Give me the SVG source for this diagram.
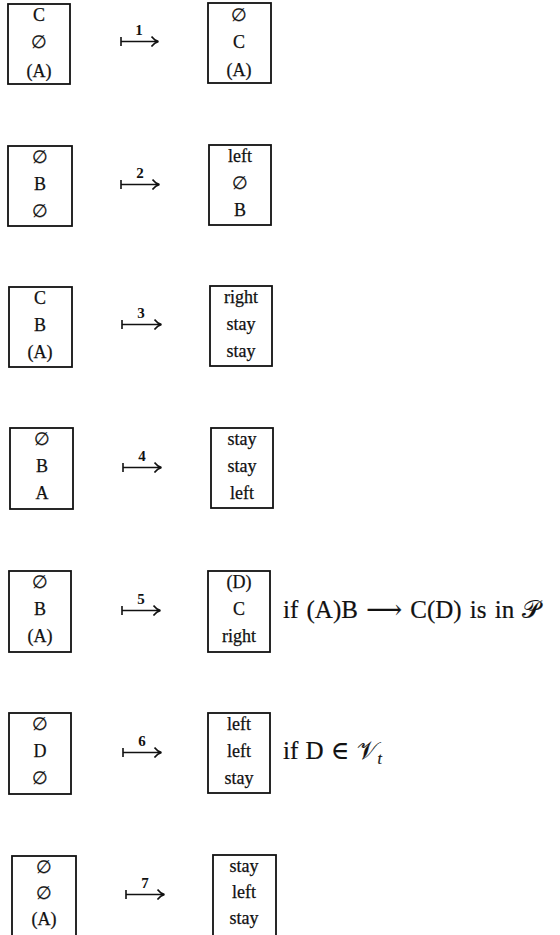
<svg xmlns="http://www.w3.org/2000/svg" width="560" height="935" viewBox="0 0 560 935">
<style>
.box{fill:#fff;stroke:#111;stroke-width:1.8}
.t{font-family:"Liberation Serif","DejaVu Serif",serif;font-size:18px;fill:#111;stroke:#111;stroke-width:0.25;text-anchor:middle}
.n{font-family:"Liberation Serif","DejaVu Serif",serif;font-size:15px;font-weight:bold;fill:#111;text-anchor:middle}
.c{font-family:"Liberation Serif","DejaVu Serif",serif;font-size:25px;fill:#111;stroke:#111;stroke-width:0.2}
.a{fill:none;stroke:#111;stroke-width:1.6}
</style>
<defs>
<marker id="ah" markerWidth="10" markerHeight="12" refX="7.5" refY="6" orient="auto" markerUnits="userSpaceOnUse">
<path d="M1,1 Q4,5 8,6 Q4,7 1,11" fill="none" stroke="#111" stroke-width="1.6"/>
</marker>
</defs>
<rect width="560" height="935" fill="#fff"/>

<g id="connectors">
<g id="arrow1"><path class="a" d="M121,37 V46 M121,41.5 H158" marker-end="url(#ah)"/><text class="n" x="139" y="35">1</text></g>
<g id="arrow2"><path class="a" d="M121,180 V189 M121,184.5 H159" marker-end="url(#ah)"/><text class="n" x="140" y="178">2</text></g>
<g id="arrow3"><path class="a" d="M122,320 V329 M122,324.5 H161" marker-end="url(#ah)"/><text class="n" x="141" y="318">3</text></g>
<g id="arrow4"><path class="a" d="M123,463 V472 M123,467.5 H161" marker-end="url(#ah)"/><text class="n" x="142" y="461">4</text></g>
<g id="arrow5"><path class="a" d="M122,606 V615 M122,610.5 H160" marker-end="url(#ah)"/><text class="n" x="141" y="604">5</text></g>
<g id="arrow6"><path class="a" d="M123,748 V757 M123,752.5 H161" marker-end="url(#ah)"/><text class="n" x="142" y="746">6</text></g>
<g id="arrow7"><path class="a" d="M126,890 V899 M126,894.5 H164" marker-end="url(#ah)"/><text class="n" x="145" y="888">7</text></g>
</g>

<g id="L1"><rect class="box" x="8" y="4" width="62" height="80"/><text class="t" x="39" y="21">C</text><text class="t" x="39" y="48">∅</text><text class="t" x="39" y="77">(A)</text></g>
<g id="R1"><rect class="box" x="208" y="3" width="63" height="80"/><text class="t" x="239" y="21">∅</text><text class="t" x="239" y="48">C</text><text class="t" x="239" y="76">(A)</text></g>

<g id="L2"><rect class="box" x="8" y="146" width="64" height="80"/><text class="t" x="40" y="163">∅</text><text class="t" x="40" y="190">B</text><text class="t" x="40" y="217">∅</text></g>
<g id="R2"><rect class="box" x="209" y="145" width="62" height="80"/><text class="t" x="240" y="162">left</text><text class="t" x="240" y="189">∅</text><text class="t" x="240" y="216">B</text></g>

<g id="L3"><rect class="box" x="9" y="287" width="63" height="80"/><text class="t" x="40" y="304">C</text><text class="t" x="40" y="331">B</text><text class="t" x="40" y="358">(A)</text></g>
<g id="R3"><rect class="box" x="210" y="286" width="62" height="80"/><text class="t" x="241" y="303">right</text><text class="t" x="241" y="330">stay</text><text class="t" x="241" y="357">stay</text></g>

<g id="L4"><rect class="box" x="10" y="428" width="63" height="81"/><text class="t" x="42" y="445">∅</text><text class="t" x="42" y="472">B</text><text class="t" x="42" y="499">A</text></g>
<g id="R4"><rect class="box" x="211" y="428" width="62" height="80"/><text class="t" x="242" y="445">stay</text><text class="t" x="242" y="472">stay</text><text class="t" x="242" y="499">left</text></g>

<g id="L5"><rect class="box" x="9" y="571" width="62" height="81"/><text class="t" x="40" y="588">∅</text><text class="t" x="40" y="615">B</text><text class="t" x="40" y="642">(A)</text></g>
<g id="R5"><rect class="box" x="208" y="571" width="62" height="81"/><text class="t" x="239" y="588">(D)</text><text class="t" x="239" y="615">C</text><text class="t" x="239" y="642">right</text></g>
<g id="C5"><text class="c" x="283" y="618" word-spacing="2">if (A)B ⟶ C(D) is in 𝒫</text></g>

<g id="L6"><rect class="box" x="9" y="713" width="62" height="81"/><text class="t" x="40" y="730">∅</text><text class="t" x="40" y="757">D</text><text class="t" x="40" y="784">∅</text></g>
<g id="R6"><rect class="box" x="208" y="713" width="62" height="80"/><text class="t" x="239" y="730">left</text><text class="t" x="239" y="757">left</text><text class="t" x="239" y="784">stay</text></g>
<g id="C6"><text class="c" x="283" y="759" word-spacing="1">if D ∈ 𝒱<tspan font-size="16" font-style="italic" dy="5">t</tspan></text></g>

<g id="L7"><rect class="box" x="12" y="856" width="64" height="81"/><text class="t" x="44" y="873">∅</text><text class="t" x="44" y="899">∅</text><text class="t" x="44" y="925">(A)</text></g>
<g id="R7"><rect class="box" x="213" y="855" width="63" height="81"/><text class="t" x="244" y="872">stay</text><text class="t" x="244" y="898">left</text><text class="t" x="244" y="924">stay</text></g>
</svg>
